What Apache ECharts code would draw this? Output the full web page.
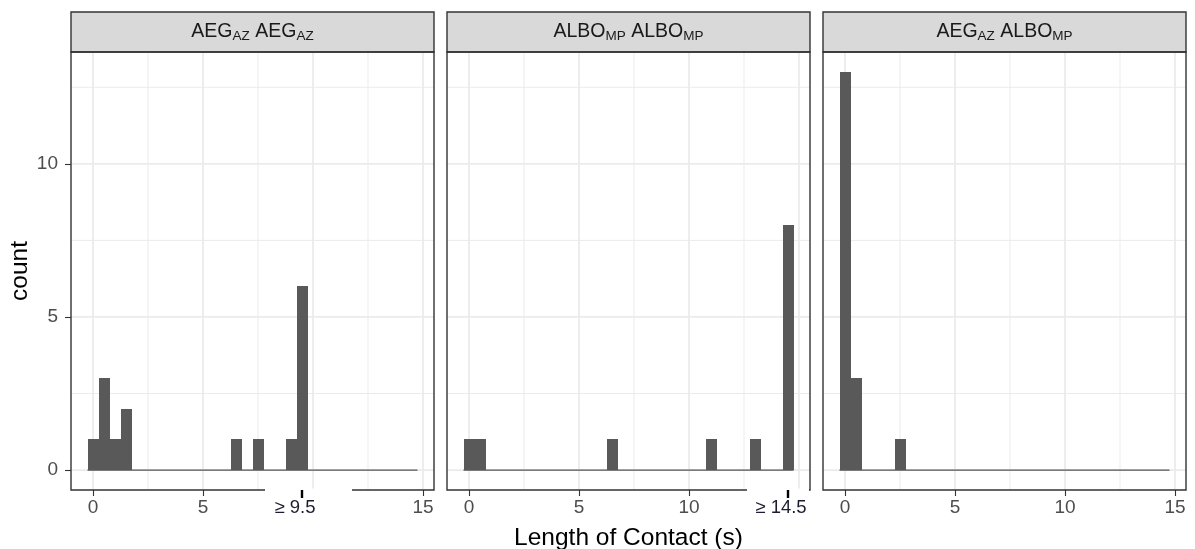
<!DOCTYPE html>
<html>
<head>
<meta charset="utf-8">
<script src="https://cdn.jsdelivr.net/npm/echarts@6/dist/echarts.min.js"></script>
<style>
html,body{margin:0;padding:0;background:#fff;}
#c{width:1195px;height:549px;}
</style>
</head>
<body>
<div id="c"></div>
<script>
// ---------------- DATA ----------------
const binWidth = 0.5;
const binCenters = [0,0.5,1,1.5,2,2.5,3,3.5,4,4.5,5,5.5,6,6.5,7,7.5,8,8.5,9,9.5,10,10.5,11,11.5,12,12.5,13,13.5,14,14.5];
const countsAegAeg   = [1,3,1,2,0,0,0,0,0,0, 0,0,0,1,0,1,0,0,1,6, 0,0,0,0,0,0,0,0,0,0];
const countsAlboAlbo = [1,1,0,0,0,0,0,0,0,0, 0,0,0,1,0,0,0,0,0,0, 0,0,1,0,0,0,1,0,0,8];
const countsAegAlbo  = [13,3,0,0,0,1,0,0,0,0, 0,0,0,0,0,0,0,0,0,0, 0,0,0,0,0,0,0,0,0,0];
const stripLabels = ['{a|AEG}{s|AZ}{a| AEG}{s|AZ}', '{a|ALBO}{s|MP}{a| ALBO}{s|MP}', '{a|AEG}{s|AZ}{a| ALBO}{s|MP}'];
const xTicksAegAeg   = [0,5,15];
const xTicksAlboAlbo = [0,5,10];
const xTicksAegAlbo  = [0,5,10,15];
const yTicks = [0,5,10];
const xMajorGrid = [0,5,10,15];
const xMinorGrid = [2.5,7.5,12.5];
const yMajorGrid = [0,5,10];
const yMinorGrid = [2.5,7.5,12.5];
const annotValues = [9.5, 14.5, null];
const annotLabels = ['\u2265 9.5', '\u2265 14.5', null];
const xTitle = 'Length of Contact (s)';
const yTitle = 'count';

// ---------------- LAYOUT ----------------
const FONT = "'Liberation Sans', Arial, Helvetica, sans-serif";
const PANEL_LEFT = [71, 447, 823];
const PANEL_W = 363, PANEL_TOP = 52, PANEL_H = 438;
const STRIP_TOP = 12, STRIP_H = 40;
const X_MIN = -1, X_MAX = 15.5, Y_MIN = -0.65, Y_MAX = 13.65;

const panels = [
  {counts: countsAegAeg, xTicks: xTicksAegAeg, boxL: 37, boxR: 50},
  {counts: countsAlboAlbo, xTicks: xTicksAlboAlbo, boxL: 41, boxR: 21},
  {counts: countsAegAlbo, xTicks: xTicksAegAlbo, boxL: 0, boxR: 0}
];

const grid = [], xAxis = [], yAxis = [], series = [], graphic = [];

const gridData = [];
xMajorGrid.forEach(v => gridData.push([v, 0, 1]));
xMinorGrid.forEach(v => gridData.push([v, 0, 0]));
yMajorGrid.forEach(v => gridData.push([v, 1, 1]));
yMinorGrid.forEach(v => gridData.push([v, 1, 0]));

panels.forEach((p, i) => {
  grid.push({left: PANEL_LEFT[i], top: PANEL_TOP, width: PANEL_W, height: PANEL_H, show: false,
             containLabel: false, outerBoundsMode: 'none'});
  xAxis.push({
    type: 'value', gridIndex: i, min: X_MIN, max: X_MAX, position: 'bottom',
    axisLine: {show: false, onZero: false},
    axisTick: {show: true, customValues: p.xTicks, length: 6, lineStyle: {color: '#333333', width: 1.1}},
    axisLabel: {show: true, customValues: p.xTicks, fontSize: 19, color: '#4d4d4d', margin: 8, fontFamily: FONT},
    splitLine: {show: false},
    name: i === 1 ? xTitle : '',
    nameLocation: 'middle', nameGap: 36,
    nameTextStyle: {fontSize: 24.5, color: '#000', fontFamily: FONT}
  });
  yAxis.push({
    type: 'value', gridIndex: i, min: Y_MIN, max: Y_MAX, position: 'left',
    axisLine: {show: false, onZero: false},
    axisTick: {show: i === 0, customValues: yTicks, length: 6, lineStyle: {color: '#333333', width: 1.1}},
    axisLabel: {show: i === 0, customValues: yTicks, fontSize: 19, color: '#4d4d4d', margin: 13, fontFamily: FONT},
    splitLine: {show: false},
    name: i === 0 ? yTitle : '',
    nameLocation: 'middle', nameGap: 38,
    nameTextStyle: {fontSize: 24.5, color: '#000', fontFamily: FONT}
  });

  // grid lines
  series.push({
    type: 'custom', xAxisIndex: i, yAxisIndex: i, z: 1, silent: true, clip: true,
    data: gridData,
    renderItem: function (params, api) {
      const v = api.value(0), dir = api.value(1), major = api.value(2);
      const cs = params.coordSys;
      let shape;
      if (dir === 0) {
        const pt = api.coord([v, 0]);
        shape = {x1: pt[0], y1: cs.y, x2: pt[0], y2: cs.y + cs.height};
      } else {
        const pt = api.coord([0, v]);
        shape = {x1: cs.x, y1: pt[1], x2: cs.x + cs.width, y2: pt[1]};
      }
      return {type: 'line', shape: shape, style: {stroke: '#ebebeb', lineWidth: major ? 1.8 : 1.0}};
    }
  });

  // zero baseline across data range
  series.push({
    type: 'line', xAxisIndex: i, yAxisIndex: i, z: 3, silent: true, symbol: 'none',
    data: [[binCenters[0] - binWidth / 2, 0], [binCenters[binCenters.length - 1] + binWidth / 2, 0]],
    lineStyle: {color: '#555555', width: 1.1}
  });

  // histogram bars (edges snapped to whole pixels so adjacent bins join without seams)
  const barData = [];
  binCenters.forEach((c, k) => { if (p.counts[k] > 0) barData.push([c, p.counts[k]]); });
  series.push({
    type: 'custom', xAxisIndex: i, yAxisIndex: i, z: 4, silent: true,
    data: barData,
    renderItem: function (params, api) {
      const c = api.value(0), n = api.value(1);
      const a = api.coord([c - binWidth / 2, n]);
      const b = api.coord([c + binWidth / 2, 0]);
      const x0 = Math.round(a[0]), x1 = Math.round(b[0]);
      const y0 = Math.round(a[1]), y1 = Math.round(b[1]);
      return {type: 'rect', shape: {x: x0, y: y0, width: x1 - x0, height: y1 - y0},
              style: {fill: '#595959'}};
    }
  });

  // annotation label at the cutoff
  if (annotValues[i] !== null) {
    const lab = annotLabels[i];
    series.push({
      type: 'custom', xAxisIndex: i, yAxisIndex: i, z: 60, silent: true, clip: false,
      data: [[annotValues[i], Y_MIN]],
      renderItem: function (params, api) {
        const pt = api.coord([api.value(0), api.value(1)]);
        return {
          type: 'group',
          children: [
            {type: 'rect', shape: {x: pt[0] - p.boxL, y: pt[1] - 1.5, width: p.boxL + p.boxR, height: 34}, style: {fill: '#ffffff'}},
            {type: 'line', shape: {x1: pt[0], y1: pt[1], x2: pt[0], y2: pt[1] + 8}, style: {stroke: '#000000', lineWidth: 2.4}},
            {type: 'text', style: {text: lab, x: pt[0] - 7, y: pt[1] + 18, align: 'center', verticalAlign: 'middle', fill: '#1c1c30', fontSize: 18.5, fontFamily: FONT}}
          ]
        };
      }
    });
  }

  // strip
  graphic.push({
    type: 'rect', z: 50, silent: true,
    shape: {x: PANEL_LEFT[i], y: STRIP_TOP, width: PANEL_W, height: STRIP_H},
    style: {fill: '#d9d9d9', stroke: '#333333', lineWidth: 1.4}
  });
  graphic.push({
    type: 'text', z: 51, silent: true,
    x: PANEL_LEFT[i] + PANEL_W / 2, y: STRIP_TOP + STRIP_H / 2,
    style: {
      text: stripLabels[i], align: 'center', verticalAlign: 'middle', fill: '#1a1a1a',
      fontFamily: FONT,
      rich: {
        a: {fontSize: 19.5, lineHeight: 24, fontFamily: FONT, fill: '#1a1a1a'},
        s: {fontSize: 13.5, lineHeight: 14, padding: [9, 0, 0, 0], fontFamily: FONT, fill: '#1a1a1a'}
      }
    }
  });
  // panel border
  graphic.push({
    type: 'rect', z: 50, silent: true,
    shape: {x: PANEL_LEFT[i], y: PANEL_TOP, width: PANEL_W, height: PANEL_H},
    style: {fill: 'none', stroke: '#333333', lineWidth: 1.4}
  });
});

const chart = echarts.init(document.getElementById('c'));
chart.setOption({
  animation: false,
  backgroundColor: '#ffffff',
  textStyle: {fontFamily: FONT},
  grid: grid, xAxis: xAxis, yAxis: yAxis, series: series, graphic: graphic
});
</script>
</body>
</html>
